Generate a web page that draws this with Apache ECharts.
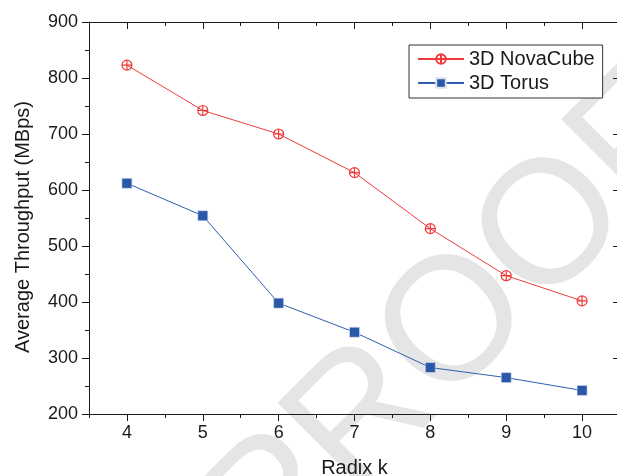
<!DOCTYPE html>
<html>
<head>
<meta charset="utf-8">
<script src="https://cdn.jsdelivr.net/npm/echarts@6/dist/echarts.min.js"></script>
<style>html,body{margin:0;padding:0;background:#fff;}#chart{width:617px;height:476px;}</style>
</head>
<body>
<div id="chart"></div>
<script>
var radix = [4, 5, 6, 7, 8, 9, 10];
var novaCube = [823, 742, 700, 631, 531, 447, 402];
var torus = [612, 554, 398, 346, 283, 265, 242];
var xMajorTicks = [4, 5, 6, 7, 8, 9, 10];
var xMinorTicks = [3.5, 4.5, 5.5, 6.5, 7.5, 8.5, 9.5, 10.5];

var chart = echarts.init(document.getElementById('chart'), null, {renderer: 'canvas'});
var FONT = 'Liberation Sans, Arial, sans-serif';
var axisColor = '#1a1a1a';
var crossCircle = 'path://M0,-10A10,10,0,1,1,0,10A10,10,0,1,1,0,-10ZM-10,0L10,0M0,-10L0,10';

function xAxisDef(pos, major, showLine, showLabel) {
  return {
    type: 'value', position: pos, min: 3.5, max: 10.5,
    axisLine: {show: showLine, lineStyle: {color: axisColor, width: 1}},
    axisTick: {show: true, inside: pos === 'top', length: major ? 7 : 4,
      customValues: major ? xMajorTicks : xMinorTicks,
      lineStyle: {color: axisColor, width: 1}},
    axisLabel: {show: showLabel, customValues: xMajorTicks, margin: 10,
      fontSize: 18, color: '#1a1a1a', fontFamily: FONT},
    splitLine: {show: false}
  };
}

var xAxes = [xAxisDef('bottom', true, true, true), xAxisDef('bottom', false, false, false),
             xAxisDef('top', true, true, false), xAxisDef('top', false, false, false)];
xAxes[0].name = 'Radix k';
xAxes[0].nameLocation = 'middle';
xAxes[0].nameGap = 44;
xAxes[0].nameTextStyle = {fontSize: 20, color: '#1a1a1a', fontFamily: FONT};

chart.setOption({
  backgroundColor: '#fff',
  animation: false,
  graphic: [{
    type: 'text', x: 457, y: 326, rotation: Math.PI / 4, z: -10, silent: true,
    style: {text: 'PROOF', fontSize: 176, fontFamily: FONT, fill: '#e4e5e6',
      align: 'center', verticalAlign: 'middle'}
  }],
  grid: {left: 89, top: 22, right: -3, bottom: 62, containLabel: false, outerBoundsMode: 'none'},
  legend: {
    orient: 'vertical', left: 409, top: 45,
    padding: [3, 8, 4, 8], itemGap: 2, itemWidth: 46, itemHeight: 12,
    borderColor: '#333', borderWidth: 1, backgroundColor: '#fff',
    textStyle: {fontSize: 20, color: '#1a1a1a', fontFamily: FONT, lineHeight: 22},
    data: ['3D NovaCube', '3D Torus']
  },
  xAxis: xAxes,
  yAxis: [{
    type: 'value', min: 200, max: 900, interval: 100, position: 'left',
    name: 'Average Throughput (MBps)', nameLocation: 'middle', nameGap: 56,
    nameTextStyle: {fontSize: 20, color: '#1a1a1a', fontFamily: FONT, padding: [0, 18, 0, 0]},
    axisLine: {show: true, lineStyle: {color: axisColor, width: 1}},
    axisTick: {show: true, length: 7, lineStyle: {color: axisColor}},
    minorTick: {show: true, splitNumber: 2, length: 4, lineStyle: {color: axisColor}},
    axisLabel: {margin: 11, fontSize: 18, color: '#1a1a1a', fontFamily: FONT},
    splitLine: {show: false}
  }, {
    type: 'value', min: 200, max: 900, interval: 100, position: 'right',
    axisLine: {show: true, lineStyle: {color: axisColor, width: 1}},
    axisTick: {show: true, inside: true, length: 7, lineStyle: {color: axisColor}},
    axisLabel: {show: false}, splitLine: {show: false}
  }],
  series: [{
    name: '3D NovaCube', type: 'line', xAxisIndex: 0, yAxisIndex: 0,
    data: radix.map(function (r, i) { return [r, novaCube[i]]; }),
    symbol: crossCircle, symbolSize: 10,
    lineStyle: {color: '#f03a3a', width: 1},
    itemStyle: {color: 'rgba(255,255,255,0)', borderColor: '#f03a3a', borderWidth: 1.2}
  }, {
    name: '3D Torus', type: 'line', xAxisIndex: 0, yAxisIndex: 0,
    data: radix.map(function (r, i) { return [r, torus[i]]; }),
    symbol: 'rect', symbolSize: 10,
    lineStyle: {color: '#2f5fae', width: 1},
    itemStyle: {color: '#2a58a8', borderColor: '#d8e0ee', borderWidth: 0.6}
  }]
});
</script>
</body>
</html>
